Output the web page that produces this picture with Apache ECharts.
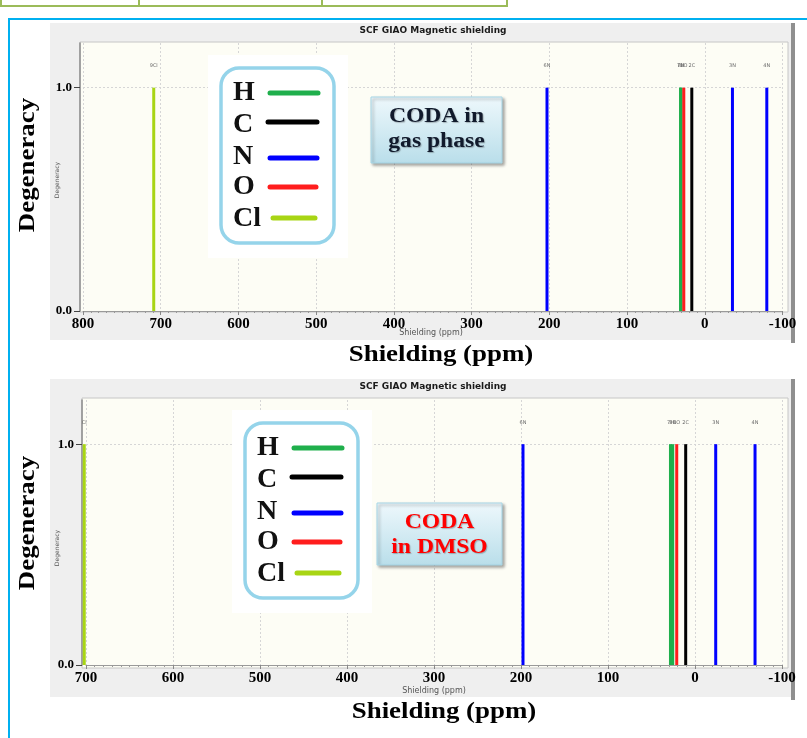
<!DOCTYPE html>
<html>
<head>
<meta charset="utf-8">
<script src="https://cdn.jsdelivr.net/npm/echarts@6/dist/echarts.min.js"></script>
<style>
html, body { margin: 0; padding: 0; background: #ffffff; }
#chart { width: 807px; height: 738px; }
</style>
</head>
<body>
<div id="chart"></div>
<script>
// GIAO isotropic shielding (ppm) for each atom of CODA, gas phase
const gasAtomLabels = ['9Cl', '6N', '7H', '8H', '1O', '2C', '3N', '4N'];
const gasElements   = ['Cl', 'N', 'H', 'H', 'O', 'C', 'N', 'N'];
const gasShielding  = [709, 203, 31.2, 30.4, 27, 16.7, -35.6, -79.8];
const gasDegeneracy = [1, 1, 1, 1, 1, 1, 1, 1];

// Same atoms, DMSO solvent model
const dmsoAtomLabels = ['Cl', '6N', '7H', '8H', '1O', '2C', '3N', '4N'];
const dmsoElements   = ['Cl', 'N', 'H', 'H', 'O', 'C', 'N', 'N'];
const dmsoShielding  = [702, 197.7, 28.2, 25.6, 21, 10.7, -23.8, -69];
const dmsoDegeneracy = [1, 1, 1, 1, 1, 1, 1, 1];

// Axis ranges (shielding axis runs high to low)
const gasRange  = [-100, 800];
const dmsoRange = [-100, 700];
const yRange    = [0, 1.2];
const yTickValues = [0, 1];
const yTickLabels = ['0.0', '1.0'];

const legendElements = ['H', 'C', 'N', 'O', 'Cl'];
const elementColors = { H: '#1faf4c', C: '#000000', N: '#0000ff', O: '#ff1d1d', Cl: '#a8d514' };

const serifBold = 'bold {s}px "Liberation Serif", "DejaVu Serif", serif';
function sf(size) { return serifBold.replace('{s}', size); }

function buildBars(shifts, degens, elems, labels) {
  return shifts.map((x, i) => ({
    value: [x, degens[i]],
    itemStyle: { color: elementColors[elems[i]] },
    label: { formatter: labels[i] }
  }));
}

function xAxisFor(range, gridIndex) {
  return {
    type: 'value', gridIndex: gridIndex, inverse: true, position: 'bottom',
    min: range[0], max: range[1], interval: 100,
    axisLine: { show: true, onZero: false, lineStyle: { color: '#9a9a9a', width: 1 } },
    axisTick: { show: true, length: 4, lineStyle: { color: '#888' } },
    minorTick: { show: true, splitNumber: 10, length: 2, lineStyle: { color: '#999' } },
    axisLabel: { color: '#000', fontFamily: '"Liberation Serif", serif', fontWeight: 'bold', fontSize: 15, margin: 6 },
    splitLine: { show: true, lineStyle: { color: '#d6d6d6', type: [2, 2], width: 1 } }
  };
}

function yAxisFor(gridIndex, offset) {
  return {
    type: 'value', gridIndex: gridIndex, min: yRange[0], max: yRange[1], interval: 1,
    position: 'left', offset: offset,
    axisLine: { show: true, onZero: false, lineStyle: { color: '#8c8c8c', width: 1.5 } },
    axisTick: { show: true, length: 6, customValues: yTickValues, lineStyle: { color: '#444' } },
    axisLabel: {
      color: '#000', fontFamily: '"Liberation Serif", serif', fontWeight: 'bold', fontSize: 13, margin: 8,
      customValues: yTickValues,
      formatter: v => { const k = yTickValues.indexOf(v); return k >= 0 ? yTickLabels[k] : ''; }
    },
    splitLine: { show: true, lineStyle: { color: '#d6d6d6', type: [2, 2], width: 1 } }
  };
}

function barSeries(data, idx) {
  return {
    type: 'bar', xAxisIndex: idx, yAxisIndex: idx, barWidth: 3, data: data,
    label: { show: true, position: 'top', distance: 19, fontSize: 5, color: '#6a6a6a',
             fontFamily: 'DejaVu Sans, sans-serif' },
    emphasis: { disabled: true }, animation: false, clip: false
  };
}

// Element legend panel with coloured sample lines
function legendBox(ox, oy) {
  const rows = [25, 57, 89, 119, 151];
  const lineY = [25, 54, 90, 119, 150];
  const lineX = [[49, 97], [47, 96], [49, 96], [49, 95], [52, 94]];
  const els = [
    { type: 'rect', z: 10, shape: { x: ox - 13, y: oy - 13, width: 140, height: 203 }, style: { fill: '#ffffff' } },
    { type: 'rect', z: 11, shape: { x: ox, y: oy, width: 113, height: 175, r: 18 },
      style: { fill: '#ffffff', stroke: '#95d4ea', lineWidth: 3.5 } }
  ];
  legendElements.forEach((e, i) => {
    els.push({ type: 'text', z: 12, style: { text: e, x: ox + 12, y: oy + rows[i], font: sf(28),
      fill: '#111', textAlign: 'left', textVerticalAlign: 'middle' } });
    els.push({ type: 'line', z: 12, shape: { x1: ox + lineX[i][0], y1: oy + lineY[i], x2: ox + lineX[i][1], y2: oy + lineY[i] },
      style: { stroke: elementColors[e], lineWidth: 5, lineCap: 'round' } });
  });
  return els;
}

function phaseBox(x, y, w, h, lines, color) {
  const els = [{
    type: 'rect', z: 10, shape: { x: x, y: y, width: w, height: h },
    style: {
      fill: { type: 'linear', x: 0, y: 0, x2: 0, y2: 1,
              colorStops: [{ offset: 0, color: '#eef8fc' }, { offset: 1, color: '#b9deea' }] },
      stroke: '#a6d6e6', lineWidth: 1,
      shadowBlur: 3, shadowOffsetX: 2, shadowOffsetY: 2, shadowColor: 'rgba(0,0,0,0.35)'
    }
  }];
  lines.forEach((t, i) => {
    els.push({ type: 'text', z: 11, x: x + w / 2, y: y + 20 + i * 25, scaleX: 1.18,
      style: { text: t, x: 0, y: 0, font: sf(20), fill: color, textAlign: 'center', textVerticalAlign: 'middle',
               textShadowColor: 'rgba(0,0,0,0.25)', textShadowBlur: 1, textShadowOffsetX: 1, textShadowOffsetY: 1 } });
  });
  return els;
}

function panel(top, height, plot, titleY, smallDegY, smallShieldX, smallShieldY, bigDegY, bigShieldX, bigShieldY) {
  return [
    { type: 'rect', z: -20, shape: { x: 50, y: top, width: 741, height: height }, style: { fill: '#efefef' } },
    { type: 'rect', z: -20, shape: { x: 791, y: top, width: 4, height: height + 3 }, style: { fill: '#8f8f8f' } },
    { type: 'rect', z: -19, shape: { x: plot[0], y: plot[1], width: plot[2], height: plot[3] },
      style: { fill: '#fdfdf5', stroke: '#c6c6c6', lineWidth: 1 } },
    { type: 'text', z: 5, style: { text: 'SCF GIAO Magnetic shielding', x: 433, y: titleY,
      font: 'bold 9px "DejaVu Sans", sans-serif', fill: '#1a1a1a', textAlign: 'center', textVerticalAlign: 'middle' } },
    { type: 'text', z: 5, x: 57, y: smallDegY, rotation: Math.PI / 2,
      style: { text: 'Degeneracy', x: 0, y: 0, font: '6px "DejaVu Sans", sans-serif', fill: '#555',
               textAlign: 'center', textVerticalAlign: 'middle' } },
    { type: 'text', z: 5, style: { text: 'Shielding (ppm)', x: smallShieldX, y: smallShieldY,
      font: '8px "DejaVu Sans", sans-serif', fill: '#555', textAlign: 'center', textVerticalAlign: 'middle' } },
    { type: 'text', z: 5, x: 28, y: bigDegY, rotation: Math.PI / 2, scaleX: 1.12,
      style: { text: 'Degeneracy', x: 0, y: 0, font: sf(24), fill: '#000', textAlign: 'center', textVerticalAlign: 'middle' } },
    { type: 'text', z: 5, x: bigShieldX, y: bigShieldY, scaleX: 1.12,
      style: { text: 'Shielding (ppm)', x: 0, y: 0, font: sf(24), fill: '#000', textAlign: 'center', textVerticalAlign: 'middle' } }
  ];
}

const frame = [
  // table remnant at the top edge
  { type: 'rect', z: -30, shape: { x: 1, y: -6, width: 506, height: 12 }, style: { fill: 'none', stroke: '#9bbb59', lineWidth: 2 } },
  { type: 'line', z: -30, shape: { x1: 139, y1: 0, x2: 139, y2: 6 }, style: { stroke: '#9bbb59', lineWidth: 2 } },
  { type: 'line', z: -30, shape: { x1: 322, y1: 0, x2: 322, y2: 6 }, style: { stroke: '#9bbb59', lineWidth: 2 } },
  // outer figure border
  { type: 'rect', z: -30, shape: { x: 9, y: 19, width: 830, height: 760 }, style: { fill: 'none', stroke: '#00b0f0', lineWidth: 2 } }
];

const graphics = [].concat(
  frame,
  panel(23, 317, [80, 42, 708, 270], 31, 180, 431, 333, 165, 441, 355),
  panel(379, 318, [82, 398, 706, 270], 387, 548, 434, 691, 523, 444, 712),
  legendBox(221, 68),
  legendBox(245, 423),
  phaseBox(371, 97, 131, 66, ['CODA in', 'gas phase'], '#111a2c'),
  phaseBox(377, 503, 125, 62, ['CODA', 'in DMSO'], '#ff0000')
);

const chart = echarts.init(document.getElementById('chart'), null, { renderer: 'canvas' });
chart.setOption({
  animation: false,
  backgroundColor: '#ffffff',
  graphic: { elements: graphics },
  grid: [
    { left: 83, right: 24.5, top: 43, height: 268 },
    { left: 86, right: 25, top: 400, height: 265 }
  ],
  xAxis: [xAxisFor(gasRange, 0), xAxisFor(dmsoRange, 1)],
  yAxis: [yAxisFor(0, 3), yAxisFor(1, 4)],
  series: [
    barSeries(buildBars(gasShielding, gasDegeneracy, gasElements, gasAtomLabels), 0),
    barSeries(buildBars(dmsoShielding, dmsoDegeneracy, dmsoElements, dmsoAtomLabels), 1)
  ]
});
</script>
</body>
</html>
